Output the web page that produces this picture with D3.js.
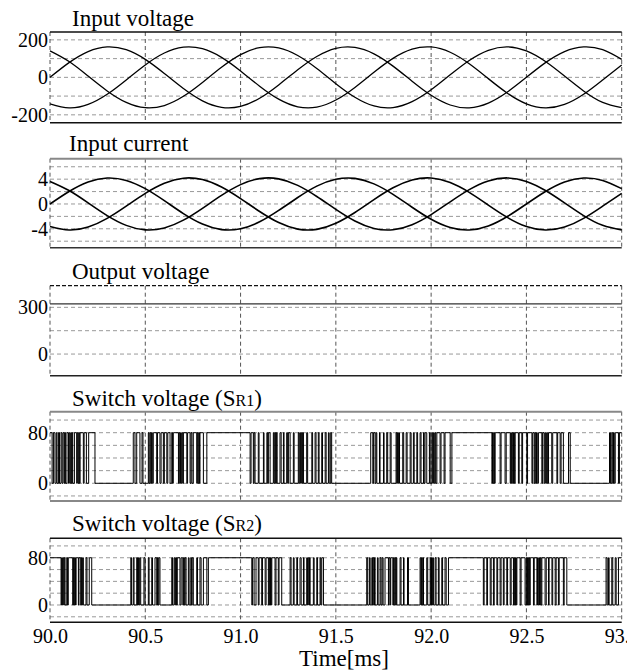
<!DOCTYPE html>
<html>
<head>
<meta charset="utf-8">
<script src="https://cdn.jsdelivr.net/npm/d3@7"></script>
<style>
  body { margin: 0; background: #fff; }
  svg { display: block; font-family: "Liberation Serif", "Times New Roman", serif; }
</style>
</head>
<body>
<div id="chart"></div>
<script>
// sample times [ms] for the sinusoidal traces
const timeMs = [90.0, 90.1, 90.2, 90.3, 90.4, 90.5, 90.6, 90.7, 90.8, 90.9,
  91.0, 91.1, 91.2, 91.3, 91.4, 91.5, 91.6, 91.7, 91.8, 91.9,
  92.0, 92.1, 92.2, 92.3, 92.4, 92.5, 92.6, 92.7, 92.8, 92.9, 93.0];

// input voltage [V], three phases
const vA = [0, 78.5, 137.6, 162.7, 147.5, 95.8, 20.4, -60.0, -125.6, -160.1, -155.0, -111.6, -40.5, 40.5, 111.6, 155.0,
  160.1, 125.6, 60.0, -20.4, -95.8, -147.5, -162.7, -137.6, -78.5, 0, 78.5, 137.6, 162.7, 147.5, 95.8];
const vB = [-141.2, -163.0, -144.4, -90.2, -13.6, 66.3, 129.8, 161.3, 152.8, 106.5, 33.9, -47.1, -116.5, -157.0, -158.7, -121.1,
  -53.6, 27.2, 101.2, 150.3, 162.1, 133.8, 72.5, -6.8, -84.4, -141.2, -163.0, -144.4, -90.2, -13.6, 66.3];
const vC = [141.2, 84.4, 6.8, -72.5, -133.8, -162.1, -150.3, -101.2, -27.2, 53.6, 121.1, 158.7, 157.0, 116.5, 47.1, -33.9,
  -106.5, -152.8, -161.3, -129.8, -66.3, 13.6, 90.2, 144.4, 163.0, 141.2, 84.4, 6.8, -72.5, -133.8, -162.1];

// input current [A], three phases
const iA = [0, 2.02, 3.55, 4.19, 3.80, 2.47, 0.53, -1.55, -3.24, -4.13, -3.99, -2.88, -1.04, 1.04, 2.88, 3.99,
  4.13, 3.24, 1.55, -0.53, -2.47, -3.80, -4.19, -3.55, -2.02, 0, 2.02, 3.55, 4.19, 3.80, 2.47];
const iB = [-3.64, -4.20, -3.72, -2.32, -0.35, 1.71, 3.34, 4.16, 3.94, 2.74, 0.87, -1.21, -3.00, -4.05, -4.09, -3.12,
  -1.38, 0.70, 2.61, 3.87, 4.18, 3.45, 1.87, -0.18, -2.17, -3.64, -4.20, -3.72, -2.32, -0.35, 1.71];
const iC = [3.64, 2.17, 0.18, -1.87, -3.45, -4.18, -3.87, -2.61, -0.70, 1.38, 3.12, 4.09, 4.05, 3.00, 1.21, -0.87,
  -2.74, -3.94, -4.16, -3.34, -1.71, 0.35, 2.32, 3.72, 4.20, 3.64, 2.17, 0.18, -1.87, -3.45, -4.18];

// output voltage [V]
const vOutTime = [90.0, 93.0];
const vOut = [322, 322];

// switch voltages: level starts at 80 V and toggles 80 <-> 0 at each listed time [ms]
const switchLevels = [80, 0];
const sr1Edges = [
  90.011, 90.018, 90.026, 90.033, 90.037, 90.045, 90.050, 90.058, 90.063, 90.068, 90.074, 90.077, 90.081, 90.089, 90.097, 90.101,
  90.105, 90.109, 90.112, 90.116, 90.119, 90.128, 90.140, 90.143, 90.147, 90.151, 90.154, 90.158, 90.175, 90.179, 90.191, 90.203, 90.236,
  90.437, 90.446, 90.455, 90.472, 90.483, 90.488, 90.516, 90.520, 90.525, 90.529, 90.533, 90.537, 90.542, 90.560, 90.564, 90.577,
  90.583, 90.595, 90.600, 90.613, 90.618, 90.630, 90.639, 90.643, 90.647, 90.674, 90.677, 90.681, 90.685, 90.689, 90.693, 90.697,
  90.700, 90.718, 90.722, 90.735, 90.740, 90.745, 90.752, 90.770, 90.773, 90.777, 90.781, 90.784, 90.787, 90.805, 90.823,
  91.050, 91.055, 91.067, 91.071, 91.076, 91.093, 91.097, 91.120, 91.123, 91.138, 91.142, 91.146, 91.155, 91.172, 91.176, 91.180,
  91.184, 91.188, 91.192, 91.207, 91.213, 91.225, 91.228, 91.242, 91.247, 91.251, 91.260, 91.277, 91.281, 91.303, 91.307, 91.311,
  91.315, 91.319, 91.323, 91.326, 91.330, 91.347, 91.352, 91.374, 91.378, 91.391, 91.396, 91.408, 91.412, 91.426, 91.430, 91.444,
  91.449, 91.461, 91.465, 91.473, 91.478,
  91.683, 91.694, 91.698, 91.706, 91.711, 91.715, 91.729, 91.732, 91.750, 91.753, 91.767, 91.772, 91.785, 91.790, 91.816, 91.820,
  91.823, 91.827, 91.830, 91.834, 91.851, 91.856, 91.869, 91.874, 91.890, 91.895, 91.907, 91.911, 91.925, 91.929, 91.942, 91.947,
  91.960, 91.963, 91.968, 91.977, 91.991, 91.995, 92.004, 92.008, 92.012, 92.016, 92.020, 92.024, 92.030, 92.047, 92.052, 92.068,
  92.073, 92.100, 92.109,
  92.319, 92.322, 92.325, 92.329, 92.332, 92.336, 92.362, 92.367, 92.388, 92.394, 92.415, 92.418, 92.421, 92.425, 92.429, 92.432,
  92.437, 92.441, 92.458, 92.462, 92.476, 92.480, 92.502, 92.506, 92.529, 92.533, 92.541, 92.545, 92.549, 92.553, 92.557, 92.563,
  92.581, 92.585, 92.593, 92.597, 92.601, 92.606, 92.610, 92.616, 92.633, 92.638, 92.660, 92.664, 92.677, 92.682, 92.694, 92.721, 92.730,
  92.936, 92.941, 92.948, 92.953, 92.957, 92.961, 92.966, 92.983, 92.988
];
const sr2Edges = [
  90.058, 90.061, 90.065, 90.068, 90.072, 90.075, 90.079, 90.088, 90.092, 90.096, 90.119, 90.123, 90.127, 90.130, 90.134, 90.137,
  90.149, 90.152, 90.161, 90.165, 90.169, 90.172, 90.175, 90.189, 90.194, 90.206, 90.219,
  90.424, 90.428, 90.437, 90.441, 90.455, 90.459, 90.464, 90.467, 90.471, 90.476, 90.493, 90.499, 90.516, 90.520, 90.534, 90.538,
  90.551, 90.560, 90.564, 90.567, 90.571, 90.577, 90.639, 90.643, 90.651, 90.655, 90.659, 90.664, 90.668, 90.682, 90.688, 90.697,
  90.701, 90.705, 90.709, 90.714, 90.726, 90.730, 90.739, 90.742, 90.746, 90.752, 90.770, 90.774, 90.787, 90.793, 90.805, 90.823, 90.831,
  91.059, 91.063, 91.071, 91.081, 91.093, 91.097, 91.111, 91.115, 91.129, 91.134, 91.146, 91.150, 91.153, 91.157, 91.161, 91.164,
  91.181, 91.186, 91.198, 91.202, 91.216, 91.260, 91.265, 91.277, 91.281, 91.295, 91.299, 91.312, 91.318, 91.330, 91.333, 91.347,
  91.351, 91.355, 91.359, 91.362, 91.365, 91.382, 91.386, 91.400, 91.404, 91.417, 91.421, 91.426, 91.435,
  91.662, 91.667, 91.676, 91.680, 91.689, 91.692, 91.696, 91.700, 91.703, 91.706, 91.718, 91.722, 91.732, 91.737, 91.743, 91.748,
  91.758, 91.776, 91.779, 91.785, 91.788, 91.799, 91.803, 91.806, 91.810, 91.814, 91.817, 91.820, 91.837, 91.842, 91.855, 91.858,
  91.876, 91.881, 91.942, 91.946, 91.950, 91.953, 91.957, 91.960, 91.977, 91.982, 91.995, 91.998, 92.002, 92.006, 92.009, 92.012,
  92.021, 92.026, 92.038, 92.042, 92.056, 92.060, 92.073, 92.079, 92.091,
  92.274, 92.278, 92.292, 92.296, 92.310, 92.315, 92.327, 92.331, 92.345, 92.349, 92.362, 92.367, 92.379, 92.383, 92.397, 92.401,
  92.415, 92.420, 92.432, 92.436, 92.439, 92.443, 92.447, 92.450, 92.467, 92.472, 92.493, 92.499, 92.502, 92.506, 92.510, 92.513,
  92.517, 92.520, 92.537, 92.541, 92.555, 92.558, 92.562, 92.566, 92.569, 92.573, 92.577, 92.581, 92.598, 92.604, 92.616, 92.619,
  92.634, 92.638, 92.651, 92.656, 92.668, 92.672, 92.694, 92.698, 92.712,
  92.918, 92.924, 92.931, 92.934, 92.948, 92.953, 92.966, 92.971, 92.983
];

const xTicks = [90.0, 90.5, 91.0, 91.5, 92.0, 92.5, 93.0];

const width = 643, height = 671;
const left = 50, right = 621.7;
const serif = "Liberation Serif, Times New Roman, serif";

const svg = d3.select("#chart").append("svg")
  .attr("width", width)
  .attr("height", height);

const x = d3.scaleLinear().domain([xTicks[0], xTicks[xTicks.length - 1]]).range([left, right]);

function zip(ts, vs) {
  return ts.map((t, i) => [t, vs[i]]);
}

function stepPoints(edges) {
  let k = 0;
  const pts = [[xTicks[0], switchLevels[k]]];
  edges.forEach(t => {
    pts.push([t, switchLevels[k]]);
    k = 1 - k;
    pts.push([t, switchLevels[k]]);
  });
  pts.push([xTicks[xTicks.length - 1], switchLevels[k]]);
  return pts;
}

const panels = [
  { title: ["Input voltage"], tx: 72, ty: 26, top: 32, bottom: 122.7, domain: [-242, 242],
    ticks: [200, 0, -200], grid: [200, 100, 0, -100, -200],
    edgeTop: { c: "#111", w: 1.5 }, edgeBottom: { c: "#111", w: 1.5 },
    series: [zip(timeMs, vA), zip(timeMs, vB), zip(timeMs, vC)], curve: d3.curveNatural, sw: 1.3 },
  { title: ["Input current"], tx: 69, ty: 151, top: 158.7, bottom: 247.7, domain: [-7.05, 7.3],
    ticks: [4, 0, -4], grid: [6, 4, 2, 0, -2, -4, -6],
    edgeTop: { c: "#888", w: 2 }, edgeBottom: { c: "#333", w: 1.5 },
    series: [zip(timeMs, iA), zip(timeMs, iB), zip(timeMs, iC)], curve: d3.curveNatural, sw: 1.6 },
  { title: ["Output voltage"], tx: 72, ty: 279, top: 285.7, bottom: 375.7, domain: [-139, 439],
    ticks: [300, 0], grid: [300, 150, 0],
    edgeTop: { c: "#111", w: 1.2, dash: "4,2" }, edgeBottom: { c: "#222", w: 1.5 },
    series: [zip(vOutTime, vOut)], curve: d3.curveLinear, sw: 1.4, color: "#333" },
  { title: ["Switch voltage (S", "R1", ")"], tx: 72, ty: 406, top: 411.7, bottom: 501, domain: [-28, 113.2],
    ticks: [80, 0], grid: [100, 80, 60, 40, 20, 0, -20],
    edgeTop: { c: "#888", w: 2 }, edgeBottom: { c: "#888", w: 2 },
    series: [stepPoints(sr1Edges)], curve: d3.curveLinear, sw: 1 },
  { title: ["Switch voltage (S", "R2", ")"], tx: 72, ty: 531, top: 538.3, bottom: 622.3, domain: [-29.3, 112.9],
    ticks: [80, 0], grid: [100, 80, 60, 40, 20, 0, -20],
    edgeTop: { c: "#111", w: 1.5 }, edgeBottom: { c: "#111", w: 1.5 },
    series: [stepPoints(sr2Edges)], curve: d3.curveLinear, sw: 1 }
];

panels.forEach(p => {
  const y = d3.scaleLinear().domain(p.domain).range([p.bottom, p.top]);
  const g = svg.append("g");

  // horizontal grid
  g.selectAll(".hgrid").data(p.grid).join("line")
    .attr("x1", left).attr("x2", right)
    .attr("y1", d => y(d)).attr("y2", d => y(d))
    .attr("stroke", "#999")
    .attr("stroke-width", 1)
    .attr("stroke-dasharray", "4,3");

  // vertical grid (includes the left / right frame)
  g.selectAll(".vgrid").data(xTicks).join("line")
    .attr("x1", d => x(d)).attr("x2", d => x(d))
    .attr("y1", p.top).attr("y2", p.bottom)
    .attr("stroke", "#555")
    .attr("stroke-width", 1)
    .attr("stroke-dasharray", "4,3");

  // traces
  const line = d3.line().x(d => x(d[0])).y(d => y(d[1])).curve(p.curve);
  g.selectAll(".trace").data(p.series).join("path")
    .attr("fill", "none")
    .attr("stroke", p.color || "#000")
    .attr("stroke-width", p.sw)
    .attr("d", line);

  // top / bottom frame lines
  [[p.top, p.edgeTop], [p.bottom, p.edgeBottom]].forEach(([yy, e]) => {
    g.append("line")
      .attr("x1", left).attr("x2", right)
      .attr("y1", yy).attr("y2", yy)
      .attr("stroke", e.c)
      .attr("stroke-width", e.w)
      .attr("stroke-dasharray", e.dash || null);
  });

  // y axis labels
  const yAxis = d3.axisLeft(y).tickValues(p.ticks).tickSize(0).tickPadding(2).tickFormat(d => String(d));
  g.append("g")
    .attr("transform", `translate(${left},0)`)
    .call(yAxis)
    .call(a => a.select(".domain").remove())
    .selectAll("text")
      .attr("font-size", 20)
      .attr("font-family", serif)
      .attr("fill", "#000");

  // title
  const t = g.append("text")
    .attr("x", p.tx).attr("y", p.ty)
    .attr("font-size", 23)
    .attr("fill", "#000");
  t.append("tspan").text(p.title[0]);
  if (p.title.length > 1) {
    t.append("tspan").attr("font-size", 16).text(p.title[1]);
    t.append("tspan").text(p.title[2]);
  }
});

// x axis labels (the picture is cut at the right edge)
svg.append("clipPath").attr("id", "xclip")
  .append("rect").attr("x", 0).attr("y", 600).attr("width", 627).attr("height", 71);

const xAxis = d3.axisBottom(x).tickValues(xTicks).tickSize(0).tickPadding(7).tickFormat(d3.format(".1f"));
svg.append("g")
  .attr("clip-path", "url(#xclip)")
  .append("g")
  .attr("transform", `translate(0,${panels[4].bottom})`)
  .call(xAxis)
  .call(a => a.select(".domain").remove())
  .selectAll("text")
    .attr("font-size", 20)
    .attr("font-family", serif)
    .attr("fill", "#000");

svg.append("text")
  .attr("x", 344)
  .attr("y", 666)
  .attr("text-anchor", "middle")
  .attr("font-size", 23)
  .attr("fill", "#000")
  .text("Time[ms]");
</script>
</body>
</html>
